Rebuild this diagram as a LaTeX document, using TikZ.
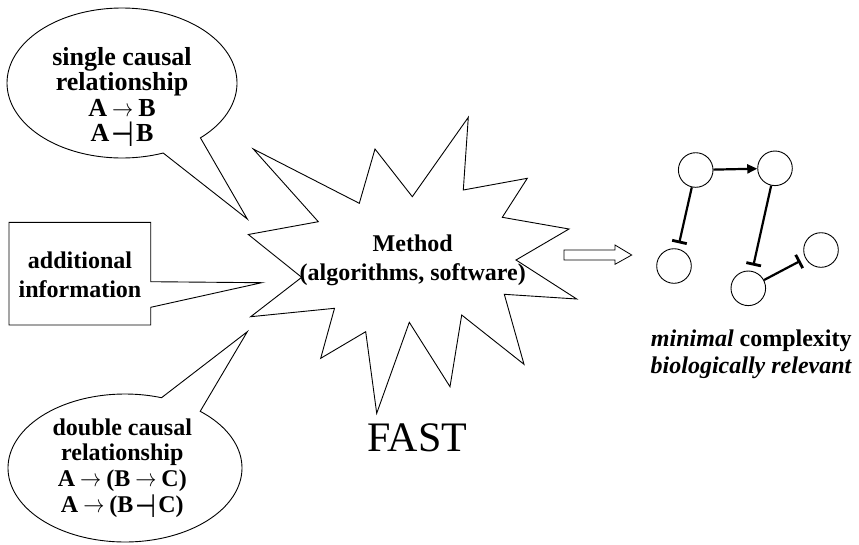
\documentclass[tikz,border=0pt]{standalone}
\usepackage{fontspec}
\usepackage{graphicx}
\setmainfont{Liberation Serif}
\newfontfamily\tackfont{DejaVu Sans}
\usetikzlibrary{arrows.meta}
\newcommand{\tackA}{\raisebox{-5pt}{\scalebox{1}[1.35]{\tackfont\mdseries ⊣}}}
\newcommand{\arrA}{\scalebox{0.85}[1]{$\rightarrow$}}
\newcommand{\tightls}{\lineskiplimit-60pt\relax}
\begin{document}
\begin{tikzpicture}[x=1pt,y=-1pt,
  outl/.style={draw=black, line width=0.9pt, line join=miter},
  lbl/.style={anchor=base, inner sep=0pt, align=center, font={\bfseries\fontsize{24}{25.7}\selectfont\tightls}},
  lblbig/.style={anchor=base, inner sep=0pt, align=center, font={\bfseries\fontsize{26}{25.6}\selectfont\tightls}},
  netnode/.style={circle, draw=black, line width=0.9pt, minimum size=34.6pt, inner sep=0pt},
  netedge/.style={line width=2.2pt},
  inhib/.style={netedge, -{Bar[width=15pt,line width=2.8pt]}, shorten >=5.5pt}
]
\useasboundingbox (0,0) rectangle (859,544);

% top speech bubble
\draw[outl] plot[domain=69:407,samples=150] ({122+115*cos(\x)},{83+75*sin(\x)}) -- (247.3,219) -- cycle;
\node[lblbig] (topt) at (122,141.8) {single causal\\relationship\\A\kern5pt\arrA\kern5pt B\\A\kern2pt\tackA\kern2pt B};

% additional information box
\draw[outl] (150.7,281.7) -- (150.7,222.3) -- (9,222.3) -- (9,325) -- (150.7,325) -- (150.7,307.3) -- (261.7,282.7) -- cycle;
\node[lbl, font={\bfseries\fontsize{24}{28.6}\selectfont\tightls}] (addt) at (80,297.3) {additional\\information};

% bottom speech bubble
\draw[outl] plot[domain=-50:288.2,samples=150] ({125+117*cos(\x)},{468+74*sin(\x)}) -- (247.3,331.7) -- cycle;
\node[lbl] (bott) at (122.3,512.1) {double causal\\relationship\\A\kern5pt\arrA\kern5pt(B\kern5pt\arrA\kern5pt C)\\A\kern5pt\arrA\kern5pt(B\kern2pt\tackA\kern2pt C)};

% starburst
\draw[outl] (248.3,234.5) -- (318.3,221.7) -- (253.3,149) -- (359.3,203.3) -- (375,149)
  -- (412.3,196.7) -- (468.3,117.3) -- (463.3,190) -- (527.3,178.3) -- (502.3,217.3)
  -- (569,229) -- (516,260) -- (576.7,299) -- (504.3,294.3) -- (524,364.3)
  -- (461.7,315) -- (450,386.7) -- (409.3,322.3) -- (376.7,413.3) -- (365.7,331.7)
  -- (320.7,358.3) -- (334.5,308.3) -- (250.7,316.7) -- (301.7,277.3) -- cycle;
\node[lbl, font={\bfseries\fontsize{24}{28.3}\selectfont\tightls}] (meth) at (412.7,280) {Method\\(algorithms, software)};
\node[anchor=base, inner sep=0pt, font=\fontsize{42}{46}\selectfont] (fast) at (417.5,451.7) {FAST};

% block arrow
\draw[outl, line width=0.8pt] (564,250) -- (615,250) -- (615,245) -- (631.7,255) -- (615,264.3) -- (615,260) -- (564,260) -- cycle;

% network
\node[netnode] (n1) at (695.7,170) {};
\node[netnode] (n2) at (775,168.3) {};
\node[netnode] (n3) at (674,266) {};
\node[netnode] (n4) at (748.3,288.3) {};
\node[netnode] (n5) at (821,250) {};
\draw[netedge, -{Triangle[length=10pt,width=9pt]}] (n1) -- (n2);
\draw[inhib] (n1) -- (n3);
\draw[inhib] (n2) -- (n4);
\draw[inhib] (n4) -- (n5);

\node[lbl, font={\bfseries\fontsize{24}{26.6}\selectfont\tightls}] (rt) at (751.3,373.3) {\textit{minimal} complexity\\\textit{biologically relevant}};
\end{tikzpicture}
\end{document}
